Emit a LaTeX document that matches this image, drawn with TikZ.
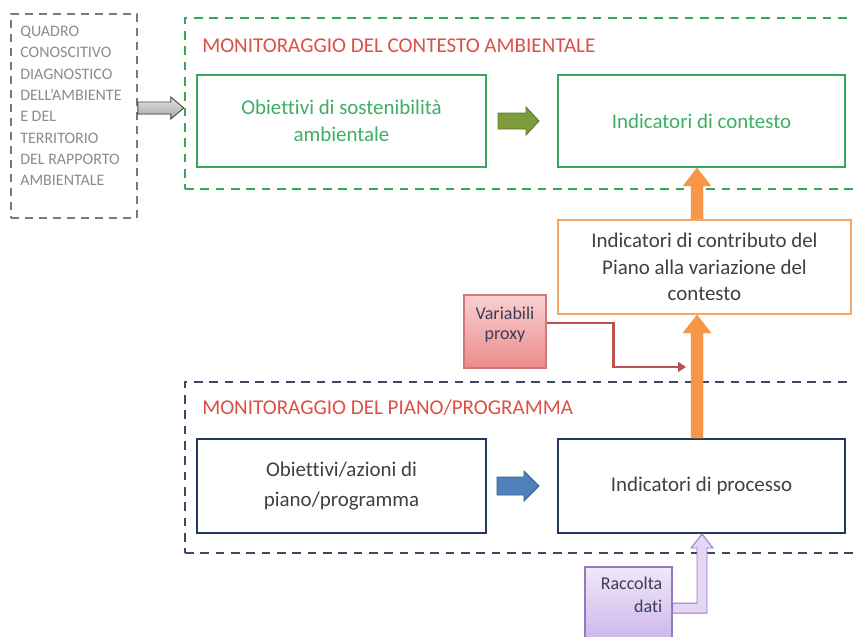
\documentclass[tikz,border=0pt]{standalone}
\usepackage{fontspec}
\setmainfont{Carlito}[Ligatures=NoCommon]
\usetikzlibrary{calc,arrows.meta}
\definecolor{gdash}{RGB}{52,168,88}
\definecolor{gtext}{RGB}{60,175,100}
\definecolor{ttlred}{RGB}{222,80,70}
\definecolor{navy}{RGB}{35,55,95}
\definecolor{navydash}{RGB}{55,75,105}
\definecolor{graytext}{RGB}{140,140,140}
\definecolor{graydash}{RGB}{120,120,120}
\definecolor{orfill}{RGB}{247,150,70}
\definecolor{orbox}{RGB}{245,165,100}
\definecolor{darktext}{RGB}{64,64,64}
\definecolor{garfill}{RGB}{124,155,60}
\definecolor{garline}{RGB}{95,120,45}
\definecolor{barfill}{RGB}{79,129,189}
\definecolor{barline}{RGB}{56,93,138}
\definecolor{redconn}{RGB}{192,80,77}
\definecolor{pinktop}{RGB}{250,208,208}
\definecolor{pinkbot}{RGB}{235,140,140}
\definecolor{pinkline}{RGB}{210,120,120}
\definecolor{purtop}{RGB}{240,232,250}
\definecolor{purbot}{RGB}{205,182,235}
\definecolor{purline}{RGB}{150,120,190}
\definecolor{purfill}{RGB}{228,215,245}
\definecolor{smalltext}{RGB}{60,60,90}
\newcommand{\myharrow}[6]{\filldraw[#1] ($(#2)+(0,-#4)$) -- ($(#3)+(-#6,-#4)$) -- ($(#3)+(-#6,-#5)$) -- (#3) -- ($(#3)+(-#6,#5)$) -- ($(#3)+(-#6,#4)$) -- ($(#2)+(0,#4)$) -- cycle;}
\newcommand{\myvarrow}[6]{\filldraw[#1] ($(#2)+(-#4,0)$) -- ($(#3)+(-#4,#6)$) -- ($(#3)+(-#5,#6)$) -- (#3) -- ($(#3)+(#5,#6)$) -- ($(#3)+(#4,#6)$) -- ($(#2)+(#4,0)$) -- cycle;}
\begin{document}
\begin{tikzpicture}[x=0.75pt,y=-0.75pt,
  dashbox/.style={draw, dash pattern=on 6.5pt off 5pt, line width=1.8pt, inner sep=0pt},
  solidbox/.style={draw, line width=1.5pt, inner sep=0pt, align=center, font=\fontsize{15.7}{20}\selectfont},
  ttl/.style={text=ttlred, inner sep=0pt, font=\fontsize{15.8}{18}\selectfont},
  grayarr/.style={draw=black!70, line width=0.7pt, top color=black!10, bottom color=black!35},
  greenarr/.style={draw=garline, line width=0.7pt, fill=garfill},
  bluearr/.style={draw=barline, line width=0.7pt, fill=barfill},
  orangearr/.style={draw=orfill, line width=0.3pt, fill=orfill},
  purarr/.style={draw=purline, line width=0.7pt, fill=purfill}]
\useasboundingbox (0,0) rectangle (853,636);
\clip (0,0) rectangle (853,636);
\fill[white] (0,0) rectangle (853,636);

% left gray box
\node[dashbox, draw=graydash, line width=1.3pt, dash pattern=on 6pt off 4.5pt, minimum width=94.5pt, minimum height=153pt] (qd) at (74,116) {};
\node[anchor=north west, inner sep=0pt, align=left, text=graytext, font=\fontsize{12}{16}\selectfont] (qdtxt) at (20,26)
  {QUADRO\\CONOSCITIVO\\DIAGNOSTICO\\DELL’AMBIENTE\\E DEL\\TERRITORIO\\DEL RAPPORTO\\AMBIENTALE};

% context monitoring
\node[dashbox, draw=gdash, minimum width=517.5pt, minimum height=128.25pt] (ctx) at (530,103.5) {};
\node[ttl, anchor=west] (t1) at (202,46) {MONITORAGGIO DEL CONTESTO AMBIENTALE};
\node[solidbox, draw=gdash, text=gtext, minimum width=216.75pt, minimum height=69pt] (obs) at (341.5,121) {Obiettivi di sostenibilità\\ambientale};
\node[solidbox, draw=gdash, text=gtext, minimum width=215.25pt, minimum height=69pt] (ictx) at (701.5,121) {Indicatori di contesto};

% plan monitoring
\node[dashbox, draw=navydash, minimum width=517.5pt, minimum height=128.25pt] (pp) at (530,467.5) {};
\node[ttl, anchor=west] (t2) at (202,408) {MONITORAGGIO DEL PIANO/PROGRAMMA};
\node[solidbox, draw=navy, text=darktext, font=\fontsize{15.7}{22.5}\selectfont, minimum width=216.75pt, minimum height=70.5pt] (oaz) at (341.5,486) {Obiettivi/azioni di\\piano/programma};
\node[solidbox, draw=navy, text=darktext, minimum width=215.25pt, minimum height=70.5pt] (iproc) at (701.5,486) {Indicatori di processo};

% contribution box
\node[solidbox, draw=orbox, text=darktext, minimum width=219.75pt, minimum height=70.5pt] (contr) at (704.5,267) {Indicatori di contributo del\\Piano alla variazione del\\contesto};

% proxy and data
\node[draw=pinkline, line width=0.8pt, top color=pinktop, bottom color=pinkbot, inner sep=0pt, minimum width=61.5pt, minimum height=54.75pt,
  label={[anchor=north, inner sep=0pt, yshift=-9pt, align=center, text=smalltext, font=\fontsize{13.5}{15}\selectfont]north:Variabili\\proxy}] (proxy) at (505,331.5) {};
\node[draw=purline, line width=0.8pt, top color=purtop, bottom color=purbot, inner sep=0pt, minimum width=65.25pt, minimum height=54.75pt,
  label={[anchor=north east, inner sep=0pt, xshift=-7.5pt, yshift=-8pt, align=right, text=smalltext, font=\fontsize{13.5}{17}\selectfont]north east:Raccolta\\dati}] (racc) at (628.5,603.5) {};

% block arrows
\coordinate (ga) at ([yshift=6pt]qd.east);
\coordinate (gb) at (ga -| ctx.west);
\myharrow{grayarr}{ga}{gb}{6}{11}{13}
\coordinate (ha) at ([xshift=8.25pt]obs.east);
\coordinate (hb) at ([xshift=-13.5pt]ictx.west);
\myharrow{greenarr}{ha}{hb}{8}{14}{13}
\coordinate (ba) at ([xshift=7.5pt]oaz.east);
\coordinate (bb) at ([xshift=-13.5pt]iproc.west);
\myharrow{bluearr}{ba}{bb}{9}{15}{15}

\coordinate (oax) at (697,0);
\coordinate (o1a) at (oax |- contr.north);
\coordinate (o1b) at (oax |- ictx.south);
\myvarrow{orangearr}{o1a}{o1b}{6}{14}{18}
\coordinate (o2a) at (oax |- iproc.north);
\coordinate (o2b) at (oax |- contr.south);
\myvarrow{orangearr}{o2a}{o2b}{6}{14}{18}

% proxy connector
\coordinate (rend) at (686,367);
\draw[redconn, line width=1.6pt, -{Triangle[length=6pt,width=7.5pt]}] ([yshift=6.4pt]proxy.east) -- ++(67,0) |- (rend);

% data collection bent arrow
\coordinate (pa) at ([yshift=-3.4pt]racc.east);
\coordinate (pax) at (702,0);
\coordinate (pb) at (pax |- iproc.south);
\coordinate (pc) at (pax |- pa);
\filldraw[purarr] ($(pa)+(0,-5)$) -- ($(pc)+(-5,-5)$) -- ($(pb)+(-5,14)$) -- ($(pb)+(-11,14)$) -- (pb) -- ($(pb)+(11,14)$) -- ($(pb)+(5,14)$) -- ($(pc)+(5,5)$) -- ($(pa)+(0,5)$) -- cycle;
\end{tikzpicture}
\end{document}
